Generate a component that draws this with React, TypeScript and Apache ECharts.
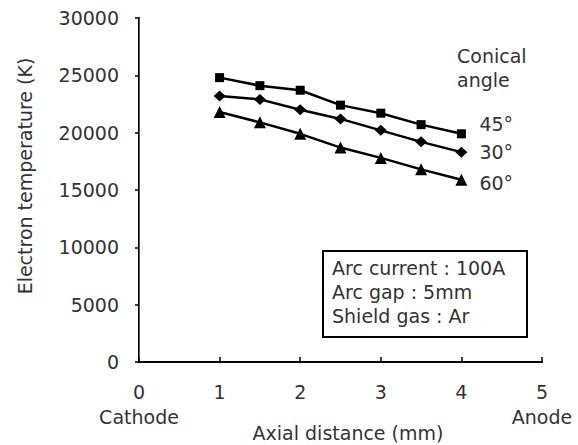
import React, { useEffect, useRef } from "react";
import * as echarts from "echarts";

const xValues = [1, 1.5, 2, 2.5, 3, 3.5, 4];
const deg45 = [24800, 24100, 23700, 22400, 21700, 20700, 19900];
const deg30 = [23200, 22900, 22000, 21200, 20200, 19200, 18300];
const deg60 = [21800, 20900, 19900, 18700, 17800, 16800, 15900];
const seriesNames = ["45°", "30°", "60°"];
const endNames = ["Cathode", "Anode"];
const legendTitle = ["Conical", "angle"];
const boxLines = ["Arc current : 100A", "Arc gap : 5mm", "Shield gas : Ar"];
const xTitle = "Axial distance (mm)";
const yTitle = "Electron temperature (K)";

const FONT = "DejaVu Sans";
const TXT = "#333";

export default function App() {
  const ref = useRef<HTMLDivElement>(null);
  useEffect(() => {
    if (!ref.current) return;
    const chart = echarts.init(ref.current, null, { renderer: "svg" });
    const mk = (vals: number[]) => xValues.map((x, i) => [x, vals[i]]);
    const lineBase = (name: string, data: number[][], symbol: string, size: any, dy: number) => ({
      name,
      type: "line",
      data,
      symbol,
      symbolSize: size,
      itemStyle: { color: "#000" },
      lineStyle: { color: "#000", width: 2.5 },
      endLabel: {
        show: true,
        formatter: name,
        position: "right",
        distance: 18,
        offset: [0, dy],
        fontFamily: FONT,
        fontSize: 19,
        color: TXT,
      },
    });
    chart.setOption({
      animation: false,
      backgroundColor: "#fff",
      grid: { left: 139, right: 36, top: 18, bottom: 83 },
      xAxis: [
        {
          type: "value",
          min: 0,
          max: 5,
          interval: 1,
          axisLine: { show: true, lineStyle: { color: "#000", width: 2 } },
          axisTick: { show: true, inside: true, length: 5, lineStyle: { color: "#000", width: 1.5 } },
          splitLine: { show: false },
          axisLabel: {
            margin: 17,
            fontFamily: FONT,
            fontSize: 19,
            lineHeight: 25,
            color: TXT,
            formatter: (v: number) =>
              v === 0 ? `0\n${endNames[0]}` : v === 5 ? `5\n${endNames[1]}` : String(v),
          },
        },
        {
          type: "value",
          position: "top",
          min: 0,
          max: 5,
          axisLine: { show: true, lineStyle: { color: "#000", width: 2 } },
          axisTick: { show: false },
          axisLabel: { show: false },
          splitLine: { show: false },
        },
      ],
      yAxis: [
        {
          type: "value",
          min: 0,
          max: 30000,
          interval: 5000,
          axisLine: { show: true, lineStyle: { color: "#000", width: 2 } },
          axisTick: { show: true, length: 4, lineStyle: { color: "#000", width: 1.5 } },
          splitLine: { show: false },
          axisLabel: {
            margin: 20,
            fontFamily: FONT,
            fontSize: 19,
            color: TXT,
            formatter: (v: number) => String(v),
          },
        },
        {
          type: "value",
          position: "right",
          min: 0,
          max: 30000,
          axisLine: { show: true, lineStyle: { color: "#555", width: 1 } },
          axisTick: { show: false },
          axisLabel: { show: false },
          splitLine: { show: false },
        },
      ],
      series: [
        lineBase(seriesNames[0], mk(deg45), "rect", 9, -10),
        lineBase(seriesNames[1], mk(deg30), "diamond", [12, 11], 0),
        lineBase(seriesNames[2], mk(deg60), "triangle", 12, 3),
      ],
      graphic: [
        {
          type: "text",
          x: 25,
          y: 176,
          rotation: Math.PI / 2,
          style: {
            text: yTitle,
            fontFamily: FONT,
            fontSize: 19,
            fill: TXT,
            align: "center",
            verticalAlign: "middle",
          },
        },
        {
          type: "text",
          x: 348,
          y: 433,
          style: {
            text: xTitle,
            fontFamily: FONT,
            fontSize: 19,
            fill: TXT,
            align: "center",
            verticalAlign: "middle",
          },
        },
        {
          type: "text",
          x: 457,
          y: 56,
          style: { text: legendTitle[0], fontFamily: FONT, fontSize: 19, fill: TXT, align: "left", verticalAlign: "middle" },
        },
        {
          type: "text",
          x: 457,
          y: 80,
          style: { text: legendTitle[1], fontFamily: FONT, fontSize: 19, fill: TXT, align: "left", verticalAlign: "middle" },
        },
        {
          type: "rect",
          shape: { x: 323, y: 251, width: 204, height: 86 },
          style: { fill: "#fff", stroke: "#000", lineWidth: 2 },
        },
        ...boxLines.map((t, i) => ({
          type: "text",
          x: 332,
          y: 268 + i * 24,
          style: { text: t, fontFamily: FONT, fontSize: 19, fill: TXT, align: "left", verticalAlign: "middle" },
        })),
      ],
    });
    return () => chart.dispose();
  }, []);
  return (
    <div
      ref={ref}
      style={{ position: "fixed", left: 0, top: 0, width: 578, height: 445, background: "#fff" }}
    />
  );
}
